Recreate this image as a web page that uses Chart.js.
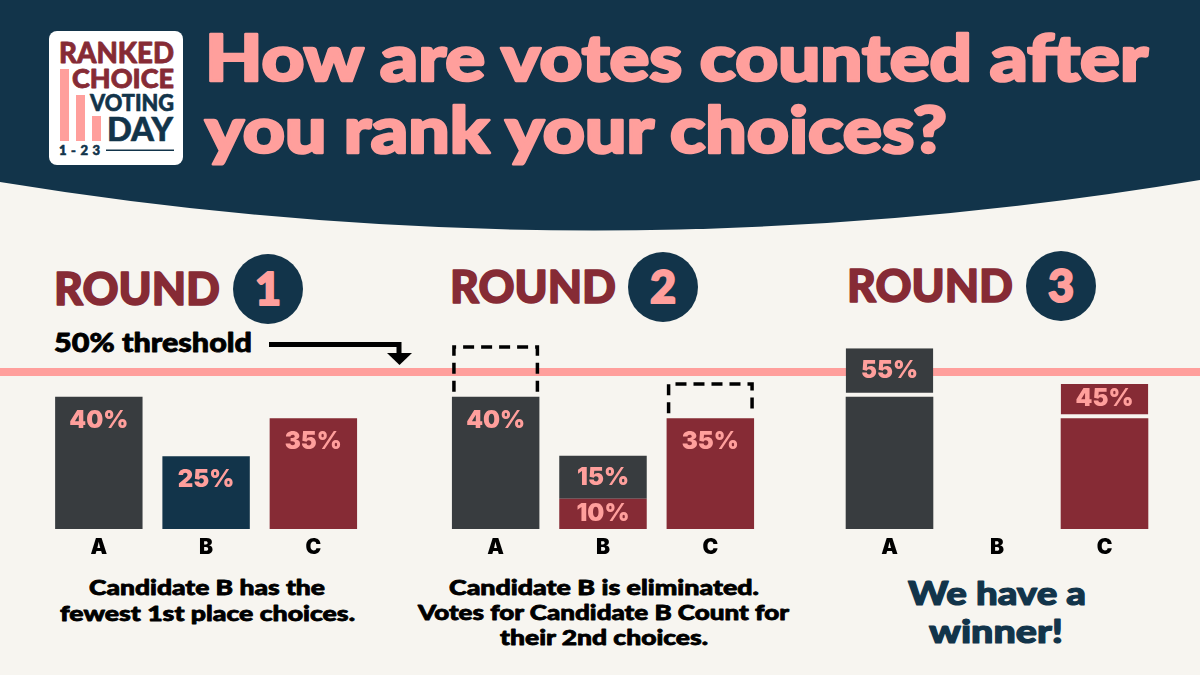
<!DOCTYPE html>
<html>
<head>
<meta charset="utf-8">
<title>How are votes counted after you rank your choices?</title>
<script src="https://cdn.jsdelivr.net/npm/chart.js@4/dist/chart.umd.min.js"></script>
<style>
  html, body { margin: 0; padding: 0; background: #f7f5f0; }
  #page { position: relative; width: 1200px; height: 675px; overflow: hidden; background: #f7f5f0; }
  #page svg { position: absolute; left: 0; top: 0; }
  #page canvas { position: absolute; top: 200px; }
  text { font-family: Lato, sans-serif; font-weight: 900; stroke-linejoin: round; }
</style>
</head>
<body>
<div id="page">
  <svg width="1200" height="675" viewBox="0 0 1200 675">
    <path d="M0 0H1200V180Q600 280 0 182Z" fill="#12344a"/>

    <rect x="49" y="31" width="134" height="134" rx="8" fill="#fff"/>
    <rect x="60" y="69" width="9" height="72" fill="#ff9f9c"/>
    <rect x="76" y="95" width="9" height="46" fill="#ff9f9c"/>
    <rect x="92" y="116" width="9" height="25" fill="#ff9f9c"/>
    <rect x="106" y="149.5" width="68" height="1.5" fill="#12344a"/>
    <g fill="#862b35" stroke="#862b35" stroke-width="0.8">
      <text x="59" y="63" font-size="29" textLength="115" lengthAdjust="spacingAndGlyphs">RANKED</text>
      <text x="72" y="88" font-size="27" textLength="102" lengthAdjust="spacingAndGlyphs">CHOICE</text>
    </g>
    <g fill="#12344a" stroke="#12344a" stroke-width="0.6">
      <text x="90" y="111" font-size="22" textLength="84" lengthAdjust="spacingAndGlyphs">VOTING</text>
      <text x="107" y="141" font-size="33" textLength="66" lengthAdjust="spacingAndGlyphs">DAY</text>
      <text x="59" y="155" font-size="13" textLength="41" lengthAdjust="spacing">1 - 2 3</text>
    </g>

    <g fill="#ff9f9c" stroke="#ff9f9c" stroke-width="2.6">
      <text x="205" y="81" font-size="65" textLength="943" lengthAdjust="spacingAndGlyphs">How are votes counted after</text>
      <text x="205" y="153" font-size="65" textLength="742" lengthAdjust="spacingAndGlyphs">you rank your choices?</text>
    </g>

    <g fill="#862b35" stroke="#862b35" stroke-width="1.6">
      <text x="54" y="305" font-size="46" textLength="166" lengthAdjust="spacingAndGlyphs">ROUND</text>
      <text x="450" y="303" font-size="46" textLength="166" lengthAdjust="spacingAndGlyphs">ROUND</text>
      <text x="847" y="302" font-size="46" textLength="166" lengthAdjust="spacingAndGlyphs">ROUND</text>
    </g>
    <circle cx="268" cy="289" r="35" fill="#12344a"/>
    <circle cx="663" cy="287" r="35" fill="#12344a"/>
    <circle cx="1061" cy="286" r="35" fill="#12344a"/>
    <g fill="#ff9f9c" stroke="#ff9f9c" stroke-width="2">
      <text x="268" y="305" font-size="45" text-anchor="middle">1</text>
      <text x="663" y="303" font-size="45" text-anchor="middle">2</text>
      <text x="1061" y="302" font-size="45" text-anchor="middle">3</text>
    </g>

    <g fill="#000" stroke="#000" stroke-width="0.8">
      <text x="54" y="352" font-size="26" textLength="198" lengthAdjust="spacingAndGlyphs">50% threshold</text>
      <text x="89" y="595" font-size="21" textLength="236" lengthAdjust="spacingAndGlyphs">Candidate B has the</text>
      <text x="60" y="621" font-size="21" textLength="295" lengthAdjust="spacingAndGlyphs">fewest 1st place choices.</text>
      <text x="449" y="595" font-size="21" textLength="310" lengthAdjust="spacingAndGlyphs">Candidate B is eliminated.</text>
      <text x="418" y="620" font-size="21" textLength="371" lengthAdjust="spacingAndGlyphs">Votes for Candidate B Count for</text>
      <text x="500" y="645" font-size="21" textLength="208" lengthAdjust="spacingAndGlyphs">their 2nd choices.</text>
    </g>
    <g fill="#12344a" stroke="#12344a" stroke-width="1.2">
      <text x="908" y="605" font-size="33" textLength="178" lengthAdjust="spacingAndGlyphs">We have a</text>
      <text x="929" y="643" font-size="33" textLength="134" lengthAdjust="spacingAndGlyphs">winner!</text>
    </g>
  </svg>
  <canvas id="round1" width="400" height="400" style="left:0"></canvas>
  <canvas id="round2" width="400" height="400" style="left:400px"></canvas>
  <canvas id="round3" width="400" height="400" style="left:800px"></canvas>
  <svg width="1200" height="675" viewBox="0 0 1200 675">
    <path d="M269 344.5H399V354" fill="none" stroke="#000" stroke-width="5"/>
    <path d="M387 353H412L399.5 365Z" fill="#000"/>
  </svg>
</div>

<script>
const candidates = ["A", "B", "C"];
const thresholdValue = 50;

// bar heights as measured on the picture (it does not draw them quite to scale),
// the printed percentages are kept separately below
const round1Heights = [42.1, 23.2, 35.3];
const round1Printed = [40, 25, 35];
const round1Colors = ["#383c3f", "#12344a", "#862b35"];

const round2Maroon = [0, 9.6, 35.3];
const round2MaroonPrinted = [null, 10, 35];
const round2Grey = [42.1, 13.7, 0];
const round2GreyPrinted = [40, 15, null];
const round2Room = [16.5, 0, 11.5];

const round3Base = [42.1, 0, 35.3];
const round3Added = [15.5, 0, 10.9];
const round3Printed = [55, null, 45];

const grey = "#383c3f";
const maroon = "#862b35";
const pink = "#ff9f9c";
const paper = "#f7f5f0";

// full width pink line behind the bars
const thresholdLine = {
    id: "thresholdLine",
    beforeDatasetsDraw(chart) {
        const y = chart.scales.y.getPixelForValue(thresholdValue);
        chart.ctx.fillStyle = pink;
        chart.ctx.fillRect(0, y - 4, chart.width, 8);
    }
};

// dashed boxes and percentages inside the bars
const barExtras = {
    id: "barExtras",
    afterDatasetsDraw(chart) {
        const ctx = chart.ctx;
        chart.data.datasets.forEach((dataset, i) => {
            chart.getDatasetMeta(i).data.forEach((bar, j) => {
                const top = bar.y;
                const height = bar.base - bar.y;
                if (dataset.dashed && height > 0) {
                    const left = bar.x - bar.width / 2 + 2;
                    const right = bar.x + bar.width / 2 - 2;
                    ctx.save();
                    ctx.strokeStyle = "#000";
                    ctx.lineWidth = 3.5;
                    ctx.setLineDash([11, 7]);
                    ctx.beginPath();
                    ctx.moveTo(left, bar.base - 5);
                    ctx.lineTo(left, top + 2);
                    ctx.lineTo(right, top + 2);
                    ctx.lineTo(right, bar.base - 5);
                    ctx.stroke();
                    ctx.restore();
                }
                if (dataset.printed && dataset.printed[j] !== null) {
                    const y = height > 60 ? top + 24 : top + (height - (dataset.gap || 0)) / 2;
                    ctx.font = "900 24px Inter, sans-serif";
                    ctx.fillStyle = pink;
                    ctx.textAlign = "center";
                    ctx.textBaseline = "middle";
                    ctx.fillText(dataset.printed[j] + "%", bar.x, y);
                }
            });
        });
    }
};

function drawRound(id, datasets, padLeft, padRight) {
    new Chart(document.getElementById(id), {
        type: "bar",
        data: { labels: candidates, datasets: datasets },
        plugins: [thresholdLine, barExtras],
        options: {
            responsive: false,
            animation: false,
            layout: { autoPadding: false, padding: { left: padLeft, right: padRight, top: 15, bottom: 31 } },
            plugins: { legend: { display: false }, tooltip: { enabled: false } },
            datasets: { bar: { categoryPercentage: 1, barPercentage: 0.815, inflateAmount: 0 } },
            scales: {
                x: {
                    stacked: true,
                    grid: { display: false, drawTicks: false },
                    border: { display: false },
                    afterFit(scale) { scale.height = 40; },
                    ticks: { color: "#000", padding: 6, font: { family: "Inter, sans-serif", size: 21, weight: 900 } }
                },
                y: { stacked: true, display: false, min: 0, max: 100 }
            }
        }
    });
}

drawRound("round1", [
    { data: round1Heights, backgroundColor: round1Colors, printed: round1Printed }
], 45.2, 33);

drawRound("round2", [
    { data: round2Maroon, backgroundColor: maroon, printed: round2MaroonPrinted },
    { data: round2Grey, backgroundColor: grey, printed: round2GreyPrinted },
    { data: round2Room, backgroundColor: "transparent", dashed: true }
], 42, 36);

drawRound("round3", [
    { data: round3Base, backgroundColor: [grey, grey, maroon] },
    {
        data: round3Added,
        backgroundColor: [grey, grey, maroon],
        borderColor: paper,
        borderWidth: { bottom: 4 },
        borderSkipped: false,
        printed: round3Printed,
        gap: 4
    }
], 35.75, 41.75);
</script>
</body>
</html>
